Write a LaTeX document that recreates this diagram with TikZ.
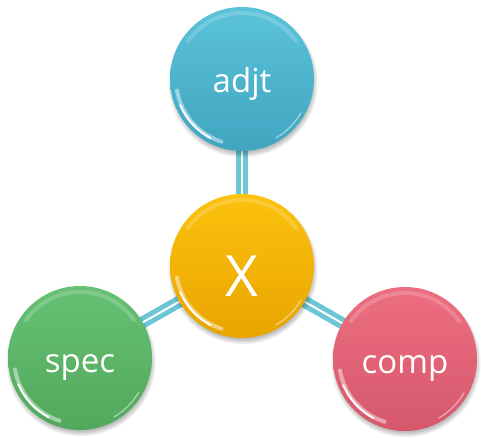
\documentclass[tikz,border=0pt]{standalone}
\usepackage{fontspec}
\setmainfont{Open Sans}

\definecolor{blueTop}{HTML}{5AC3DA}
\definecolor{blueBot}{HTML}{41A5C0}
\definecolor{goldTop}{HTML}{FCC20E}
\definecolor{goldBot}{HTML}{E9A400}
\definecolor{greenTop}{HTML}{66C173}
\definecolor{greenBot}{HTML}{52A85D}
\definecolor{redTop}{HTML}{EE6E81}
\definecolor{redBot}{HTML}{D6586C}
\definecolor{stemblue}{HTML}{6CC6D6}

\tikzset{
  ball/.style={circle, minimum size=144pt, inner sep=0pt, text=white,
    font=\fontsize{33}{36}\selectfont},
  stem/.style={draw=stemblue, line width=5pt, double=white, double distance=2pt},
  glint/.style={white, line cap=round},
  soft/.style={fill=black, opacity=0.07},
}

% label set on a fixed baseline below the ball centre
\newcommand\balltext[2]{\raisebox{-#1}[0pt][0pt]{#2}}

% soft drop shadow under a ball centred at a coordinate
\newcommand\ballshadow[1]{%
  \foreach \r in {70,71.5,73,74.5}
    \fill[soft] ([shift={(1,3.5)}]#1) circle[radius=\r pt];
}

% glossy highlights on a ball: bright lower-left arc, faint upper rim
\newcommand\glossball[1]{%
  \draw[glint, line width=4pt, opacity=0.45]
    ([shift={(190:66pt)}]#1.center) arc[start angle=190, end angle=252, radius=66pt];
  \draw[glint, line width=2pt, opacity=0.95]
    ([shift={(203:67pt)}]#1.center) arc[start angle=203, end angle=242, radius=67pt];
  \draw[glint, line width=4pt, opacity=0.18]
    ([shift={(35:66pt)}]#1.center) arc[start angle=35, end angle=145, radius=66pt];
  \draw[glint, line width=1.2pt, opacity=0.5]
    ([shift={(300:68pt)}]#1.center) arc[start angle=300, end angle=330, radius=68pt];
}

\begin{document}
\begin{tikzpicture}[x=1pt, y=-1pt]
  \useasboundingbox[fill=white] (0,0) rectangle (481,438);

  % centre ball position and satellites
  \coordinate (pX) at (242,266);
  \coordinate (pA) at (242,79);
  \coordinate (pS) at (80,358);
  \coordinate (pC) at (405,359);

  % connecting stems, drawn first so the balls sit on top
  \draw[stem] (pX) -- (pA);
  \draw[stem] (pX) -- (pS);
  \draw[stem] (pX) -- (pC);

  \ballshadow{pA}
  \ballshadow{pS}
  \ballshadow{pC}
  \ballshadow{pX}

  \node[ball, top color=blueTop, bottom color=blueBot] (adjt) at (pA) {\balltext{14pt}{adjt}};
  \node[ball, top color=greenTop, bottom color=greenBot] (spec) at (pS) {\balltext{14pt}{spec}};
  \node[ball, top color=redTop, bottom color=redBot] (comp) at (pC) {\balltext{14pt}{comp}};
  \node[ball, top color=goldTop, bottom color=goldBot,
        font=\fontsize{57}{60}\selectfont] (x) at (pX) {\balltext{30pt}{X}};

  \glossball{adjt}
  \glossball{spec}
  \glossball{comp}
  \glossball{x}
\end{tikzpicture}
\end{document}
